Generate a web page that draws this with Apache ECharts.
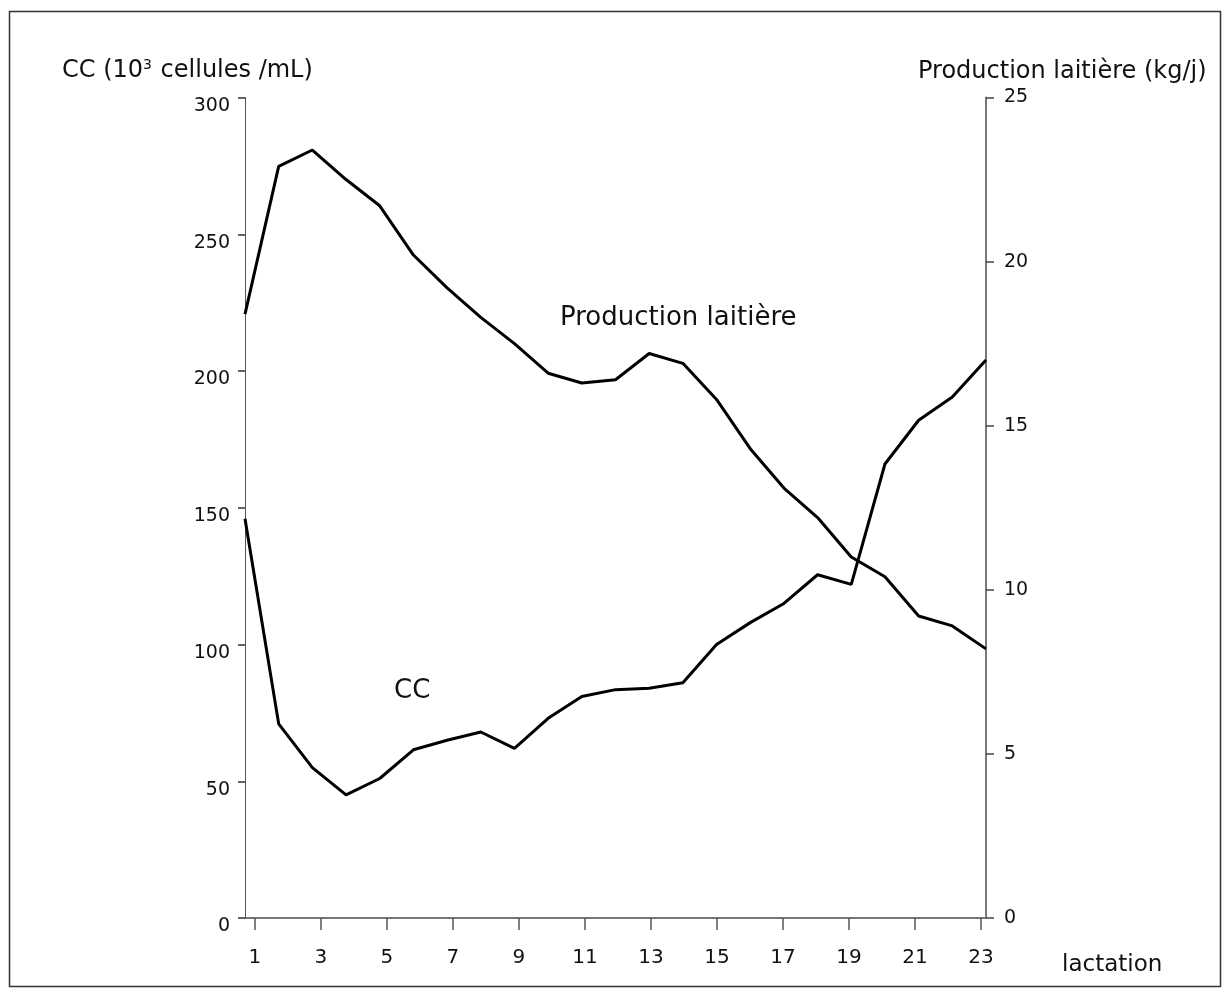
<!DOCTYPE html>
<html>
<head>
<meta charset="utf-8">
<script src="https://cdn.jsdelivr.net/npm/echarts@6/dist/echarts.min.js"></script>
<style>
  html, body { margin: 0; padding: 0; background: #fff; }
  #chart { width: 1229px; height: 999px; }
</style>
</head>
<body>
<div id="chart"></div>
<script>
// Lactation month (1..23)
const months = [1, 2, 3, 4, 5, 6, 7, 8, 9, 10, 11, 12, 13, 14, 15, 16, 17, 18, 19, 20, 21, 22, 23];
// Somatic cell count, 10^3 cells/mL (left axis)
const ccValues = [146, 71, 55, 45, 51, 61.5, 65, 68, 62, 73, 81, 83.5, 84, 86, 100, 108, 115, 125.5, 122, 166, 182, 190.5, 204];
// Milk yield, kg/day (right axis)
const milkValues = [18.4, 22.9, 23.4, 22.5, 21.7, 20.2, 19.2, 18.3, 17.5, 16.6, 16.3, 16.4, 17.2, 16.9, 15.8, 14.3, 13.1, 12.2, 11.0, 10.4, 9.2, 8.9, 8.2];
// Tick labels
const xTickLabels = [1, 3, 5, 7, 9, 11, 13, 15, 17, 19, 21, 23];
const ccTicks = [0, 50, 100, 150, 200, 250, 300];
const milkTicks = [0, 5, 10, 15, 20, 25];

const FONT = 'DejaVu Sans';
const INK = '#111';

const chart = echarts.init(document.getElementById('chart'), null, { renderer: 'canvas' });

chart.setOption({
  backgroundColor: '#fff',
  animation: false,
  grid: { left: 245, right: 243, top: 97.5, bottom: 81, containLabel: false },
  xAxis: [
    {
      // axis carrying the data points, spread across the full plot width
      type: 'value', min: months[0], max: months[months.length - 1],
      show: false
    },
    {
      // drawn scale with odd-month labels
      type: 'value', min: 0.7, max: 23.15, position: 'bottom',
      axisLine: { show: true, lineStyle: { color: '#777', width: 2 } },
      axisTick: { show: true, length: 12, inside: false, customValues: xTickLabels, lineStyle: { color: '#555', width: 1.5 } },
      axisLabel: { show: true, customValues: xTickLabels, margin: 30, fontFamily: FONT, fontSize: 20, color: INK },
      splitLine: { show: false }
    }
  ],
  yAxis: [
    {
      type: 'value', min: ccTicks[0], max: ccTicks[ccTicks.length - 1], interval: 50, position: 'left',
      axisLine: { show: true, lineStyle: { color: '#555', width: 1 } },
      axisTick: { show: true, length: 7, lineStyle: { color: '#333', width: 1.5 } },
      axisLabel: { margin: 15, fontFamily: FONT, fontSize: 19, color: INK, verticalAlign: 'top', lineHeight: 17 },
      splitLine: { show: false }
    },
    {
      type: 'value', min: milkTicks[0], max: milkTicks[milkTicks.length - 1], interval: 5, position: 'right',
      axisLine: { show: true, lineStyle: { color: '#777', width: 2 } },
      axisTick: { show: true, length: 8, lineStyle: { color: '#444', width: 1.5 } },
      axisLabel: { margin: 18, fontFamily: FONT, fontSize: 19, color: INK },
      splitLine: { show: false }
    }
  ],
  series: [
    {
      name: 'CC', type: 'line', xAxisIndex: 0, yAxisIndex: 0,
      data: months.map((m, i) => [m, ccValues[i]]),
      showSymbol: false, lineStyle: { color: '#000', width: 3 }, z: 5
    },
    {
      name: 'Production laitière', type: 'line', xAxisIndex: 0, yAxisIndex: 1,
      data: months.map((m, i) => [m, milkValues[i]]),
      showSymbol: false, lineStyle: { color: '#000', width: 3 }, z: 5
    }
  ],
  graphic: [
    {
      type: 'rect', silent: true, z: -1,
      shape: { x: 9.5, y: 11.5, width: 1211, height: 975 },
      style: { fill: 'none', stroke: '#333', lineWidth: 1.5 }
    },
    {
      type: 'text', left: 62, top: 58,
      style: {
        text: 'CC (10{sup|3} cellules /mL)',
        fontFamily: FONT, fontSize: 24, fill: INK,
        rich: { sup: { fontFamily: FONT, fontSize: 14, fill: INK, verticalAlign: 'top', padding: [0, 1, 12, 0] } }
      }
    },
    {
      type: 'text', left: 918, top: 60,
      style: { text: 'Production laitière (kg/j)', fontFamily: FONT, fontSize: 24, fill: INK }
    },
    {
      type: 'text', left: 1062, top: 954,
      style: { text: 'lactation', fontFamily: FONT, fontSize: 23, fill: INK }
    },
    {
      type: 'text', left: 560, top: 305,
      style: { text: 'Production laitière', fontFamily: FONT, fontSize: 26, fill: INK }
    },
    {
      type: 'text', left: 394, top: 678,
      style: { text: 'CC', fontFamily: FONT, fontSize: 26, fill: INK }
    }
  ]
});
</script>
</body>
</html>
